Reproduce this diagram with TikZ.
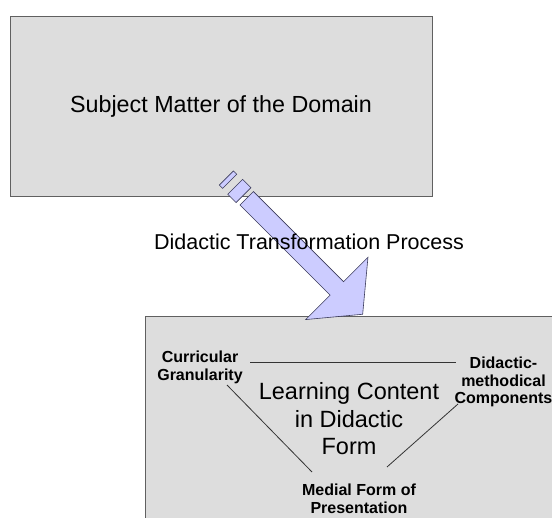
\documentclass[tikz,border=0pt]{standalone}
\usepackage{fontspec}
\setmainfont{Liberation Sans}
\definecolor{boxfill}{HTML}{DDDDDD}
\definecolor{boxline}{HTML}{606060}
\definecolor{arrowfill}{HTML}{CCCCFF}
\definecolor{arrowline}{HTML}{3A3A5A}
\definecolor{linkcol}{HTML}{333333}
\begin{document}
\begin{tikzpicture}[x=1pt,y=-1pt,
  box/.style={draw=boxline, fill=boxfill, line width=1.2pt, inner sep=0pt},
  bigtext/.style={font=\fontsize{23.3}{27.5}\selectfont, inner sep=0pt, align=center},
  proctext/.style={font=\fontsize{21.5}{25}\selectfont, inner sep=0pt},
  smalltext/.style={font=\bfseries\fontsize{16}{17.5}\selectfont, inner sep=0pt, align=center},
  link/.style={draw=linkcol, line width=0.8pt},
  arrowpart/.style={fill=arrowfill, draw=arrowline, line width=0.6pt, line join=miter}
]
\useasboundingbox (0,0) rectangle (552,518);
\clip (0,0) rectangle (552,518);
\fill[white] (0,0) rectangle (552,518);

% boxes
\node[box, anchor=north west, minimum width=422pt, minimum height=180pt] (src) at (10,16) {};
\node[box, anchor=north west, minimum width=430pt, minimum height=230pt] (dst) at (145,316) {};

% block arrow
\begin{scope}[shift={(246.7,198.3)}, rotate=-45]
  \draw[arrowpart] (-28.7,-10) rectangle (-24,10);
  \draw[arrowpart] (-16.3,-10.5) rectangle (-4.5,10.5);
  \draw[arrowpart] (0,-9.5) -- (127.5,-9.5) -- (127.5,-44) -- (164,0) -- (127.5,44) -- (127.5,9.5) -- (0,9.5) -- cycle;
\end{scope}

% texts (base anchor = baseline of the last line)
\node[bigtext, anchor=base] (smd) at (221,113) {Subject Matter of the Domain};
\node[proctext, anchor=base] (dtp) at (309,250) {Didactic Transformation Process};
\node[bigtext, font=\fontsize{23.5}{27.5}\selectfont, anchor=base] (lc) at (349,455) {Learning Content\\in Didactic\\Form};
\node[smalltext, anchor=base] (cg) at (200,380.5) {Curricular\\Granularity};
\node[smalltext, anchor=base] (dmc) at (503.5,404) {Didactic-\\methodical\\Components};
\node[smalltext, anchor=base] (mfp) at (359,513.5) {Medial Form of\\Presentation};

% connectors
\coordinate (cgR) at (250,362);
\coordinate (dmcL) at (456,362);
\coordinate (cgB) at (227,385);
\coordinate (mfpL) at (312,472);
\coordinate (dmcB) at (458,404);
\coordinate (mfpR) at (387,467);
\draw[link] (cgR) -- (dmcL);
\draw[link] (cgB) -- (mfpL);
\draw[link] (dmcB) -- (mfpR);
\end{tikzpicture}
\end{document}
